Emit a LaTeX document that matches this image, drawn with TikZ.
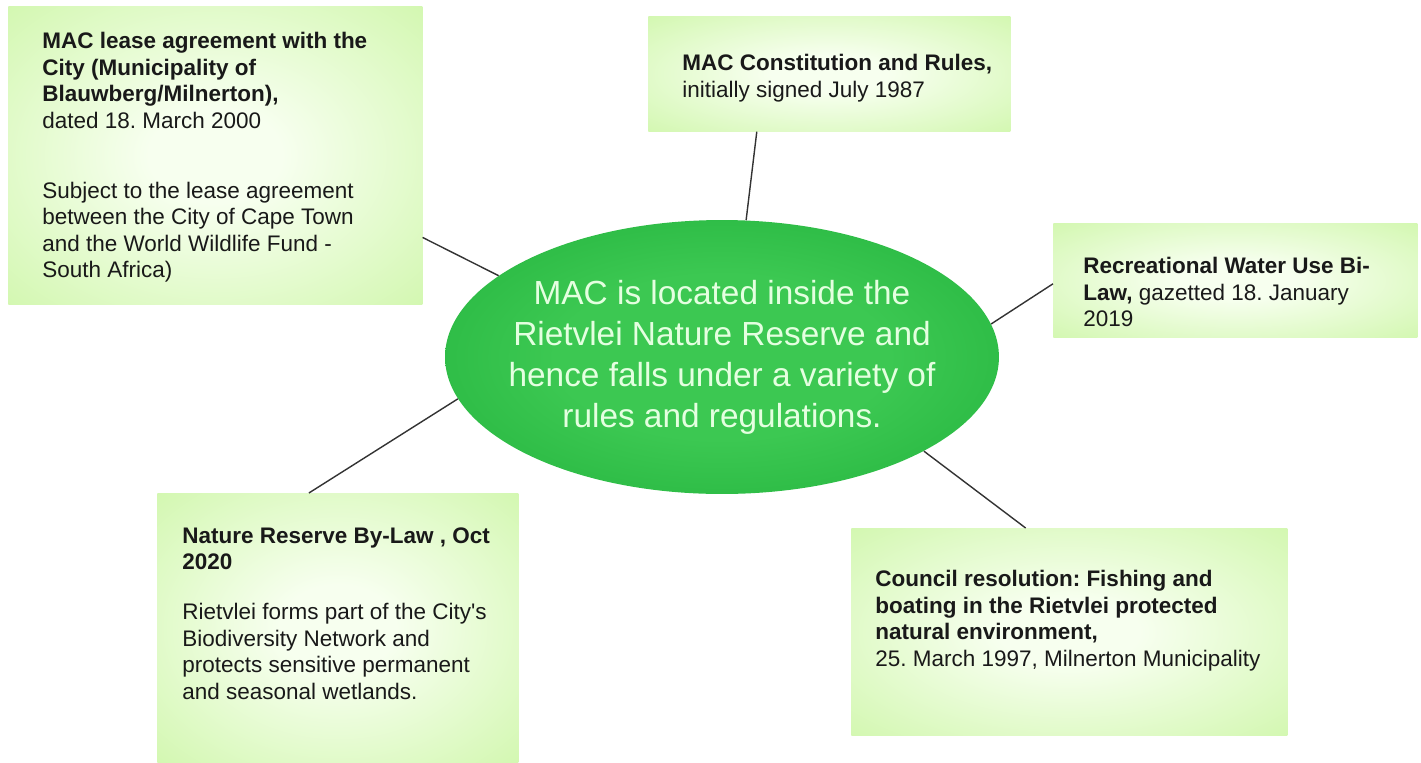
\documentclass[tikz,border=0pt]{standalone}
\usepackage{fontspec}
\setmainfont{Liberation Sans}
\usetikzlibrary{shapes.geometric, calc}
\frenchspacing

\definecolor{leafgreen}{HTML}{C8F59E}
\definecolor{paleleaf}{HTML}{F7FFEF}
\definecolor{coregreen}{HTML}{12A52F}
\definecolor{corelight}{HTML}{3CC852}
\definecolor{mint}{HTML}{E4FFE0}
\definecolor{inkline}{HTML}{333333}

\pgfdeclareradialshading{cardglow}{\pgfpoint{0bp}{0bp}}{color(0bp)=(paleleaf); color(8bp)=(paleleaf); color(44bp)=(leafgreen); color(50bp)=(leafgreen)}
\pgfdeclareradialshading{coreglow}{\pgfpoint{0bp}{0bp}}{color(0bp)=(corelight); color(15bp)=(corelight); color(48bp)=(coregreen); color(50bp)=(coregreen)}

\begin{document}
\begin{tikzpicture}[
x=0.02cm, y=-0.02cm,
card/.style={rectangle, anchor=north west, inner sep=0pt, shading=cardglow},
cardtext/.style={anchor=north west, inner sep=0pt, align=left, text=black!90, font=\fontsize{12.8}{15.1}\selectfont},
core/.style={ellipse, inner sep=0pt, minimum width=11.08cm, minimum height=5.48cm, shading=coreglow},
coretext/.style={text=mint, align=center, font=\fontsize{19}{23.3}\selectfont},
link/.style={draw=inkline, line width=0.8pt}
]
\useasboundingbox (0,0) rectangle (1421,762);

% boxes
\node[card, minimum width=8.28cm, minimum height=5.96cm] (lease) at (8,6) {};
\node[card, minimum width=7.24cm, minimum height=2.3cm] (rules) at (648,16) {};
\node[card, minimum width=7.28cm, minimum height=2.28cm] (water) at (1053,223) {};
\node[card, minimum width=7.22cm, minimum height=5.38cm] (bylaw) at (157,493) {};
\node[card, minimum width=8.72cm, minimum height=4.14cm] (council) at (851,528) {};

\node[cardtext] (leasetext) at (42,32) {\textbf{MAC lease agreement with the}\\ \textbf{City (Municipality of}\\ \textbf{Blauwberg/Milnerton),}\\ dated 18. March 2000\\[24.8pt] Subject to the lease agreement\\ between the City of Cape Town\\ and the World Wildlife Fund -\\ South Africa)};
\node[cardtext] (rulestext) at (682,54) {\textbf{MAC Constitution and Rules,}\\ initially signed July 1987};
\node[cardtext] (watertext) at (1083,257) {\textbf{Recreational Water Use Bi-}\\ \textbf{Law,} gazetted 18. January\\ 2019};
\node[cardtext] (bylawtext) at (182,527) {\textbf{Nature Reserve By-Law , Oct}\\ \textbf{2020}\\[13.4pt] Rietvlei forms part of the City\textquotesingle s\\ Biodiversity Network and\\ protects sensitive permanent\\ and seasonal wetlands.};
\node[cardtext] (counciltext) at (875,570) {\textbf{Council resolution: Fishing and}\\ \textbf{boating in the Rietvlei protected}\\ \textbf{natural environment,}\\ 25. March 1997, Milnerton Municipality};

% centre
\node[core] (core) at (722,357) {};
\node[coretext] (coretext) at (core.center) {MAC is located inside the\\ Rietvlei Nature Reserve and\\ hence falls under a variety of\\ rules and regulations.};

% links
\draw[link] ($(lease.north east)!0.775!(lease.south east)$) -- (core.160);
\draw[link] ($(rules.south west)!0.3!(rules.south east)$) -- (core.80);
\draw[link] ($(water.north west)!0.53!(water.south west)$) -- (core.7);
\draw[link] ($(bylaw.north west)!0.42!(bylaw.north east)$) -- (core.189);
\draw[link] ($(council.north west)!0.4!(council.north east)$) -- (core.-25);

\end{tikzpicture}
\end{document}
